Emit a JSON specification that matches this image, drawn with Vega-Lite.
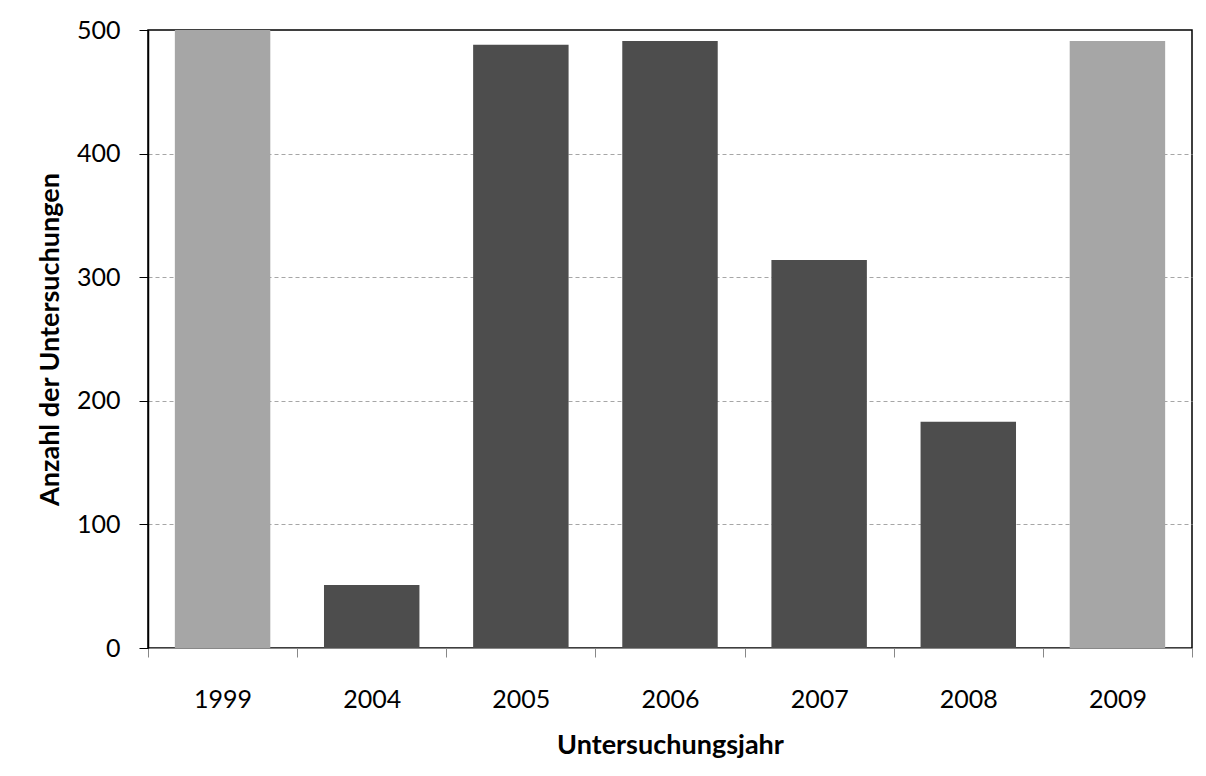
{
  "$schema": "https://vega.github.io/schema/vega-lite/v6.json",
  "width": 1044,
  "height": 618,
  "autosize": {"type": "none"},
  "padding": {"left": 148, "top": 30, "right": 14, "bottom": 128},
  "background": "white",
  "config": {
    "font": "Lato",
    "view": {"stroke": "#000000", "strokeWidth": 1.5}
  },
  "data": {
    "values": [
      {"jahr": "1999", "anzahl": 500, "gruppe": "hell"},
      {"jahr": "2004", "anzahl": 51, "gruppe": "dunkel"},
      {"jahr": "2005", "anzahl": 488, "gruppe": "dunkel"},
      {"jahr": "2006", "anzahl": 491, "gruppe": "dunkel"},
      {"jahr": "2007", "anzahl": 314, "gruppe": "dunkel"},
      {"jahr": "2008", "anzahl": 183, "gruppe": "dunkel"},
      {"jahr": "2009", "anzahl": 491, "gruppe": "hell"}
    ]
  },
  "mark": {"type": "bar", "width": {"band": 0.64}},
  "encoding": {
    "x": {
      "field": "jahr",
      "type": "nominal",
      "title": "Untersuchungsjahr",
      "scale": {"paddingInner": 0, "paddingOuter": 0},
      "axis": {
        "labelAngle": 0,
        "labelFontSize": 25,
        "labelColor": "#000000",
        "labelPadding": 30,
        "tickBand": "extent",
        "tickSize": 9,
        "tickColor": "#888888",
        "domainColor": "#888888",
        "titleFontSize": 27,
        "titleFontWeight": "bold",
        "titleColor": "#000000",
        "titlePadding": 20
      }
    },
    "y": {
      "field": "anzahl",
      "type": "quantitative",
      "title": "Anzahl der Untersuchungen",
      "scale": {"domain": [0, 500], "nice": false},
      "axis": {
        "values": [0, 100, 200, 300, 400, 500],
        "labelFontSize": 25,
        "labelColor": "#000000",
        "labelPadding": 19,
        "tickSize": 9,
        "tickColor": "#000000",
        "domainColor": "#000000",
        "domainWidth": 1.5,
        "grid": true,
        "gridColor": "#a6a6a6",
        "gridDash": [4, 3],
        "gridOpacity": {"condition": {"test": "datum.value === 0 || datum.value === 500", "value": 0}, "value": 1},
        "titleFontSize": 27,
        "titleFontWeight": "bold",
        "titleColor": "#000000",
        "titlePadding": 12
      }
    },
    "color": {
      "field": "gruppe",
      "type": "nominal",
      "scale": {"domain": ["hell", "dunkel"], "range": ["#a6a6a6", "#4d4d4d"]},
      "legend": null
    }
  }
}
